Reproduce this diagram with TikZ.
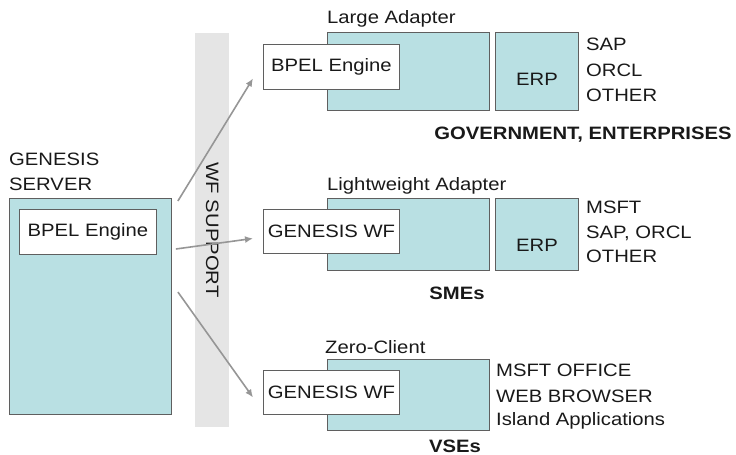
\documentclass[tikz,border=0pt]{standalone}
\usepackage{fontspec}
\setmainfont[FakeStretch=1.13]{Liberation Sans}
\usetikzlibrary{arrows.meta,calc}
\definecolor{tealfill}{RGB}{185,224,227}
\definecolor{bord}{RGB}{95,95,95}
\definecolor{bargray}{RGB}{229,229,229}
\definecolor{arrgray}{RGB}{150,150,150}
\definecolor{txt}{RGB}{25,25,25}
\begin{document}
\begin{tikzpicture}[x=1bp,y=-1bp,
  every node/.style={font=\fontsize{18}{25}\selectfont, inner sep=0pt, text=txt},
  tealbox/.style={draw=bord, fill=tealfill, line width=0.9bp, anchor=north west},
  whitebox/.style={draw=bord, fill=white, line width=0.9bp, anchor=north west},
  lbl/.style={anchor=base west},
  bold/.style={anchor=base, font=\fontsize{18}{25}\selectfont\bfseries},
  conn/.style={draw=arrgray, line width=1.6bp, -{Latex[length=8bp,width=7bp]}}]
\useasboundingbox (0,0) rectangle (736,455);

% WF support bar
\node[fill=bargray, anchor=north west, minimum width=34bp, minimum height=394bp] (bar) at (195,33) {};
\node[rotate=-90] (wfs) at (bar.center) {WF SUPPORT};

% Genesis server
\node[lbl] (gs1) at (9,166) {GENESIS};
\node[lbl] (gs2) at (9,191) {SERVER};
\node[tealbox, minimum width=162bp, minimum height=216bp] (srv) at (9,198) {};
\node[whitebox, minimum width=137bp, minimum height=45bp] (sbpel) at (19,209) {BPEL Engine};

% Large adapter
\node[lbl] (la) at (327,24) {Large Adapter};
\node[tealbox, minimum width=162bp, minimum height=78bp] (labox) at (327,32) {};
\node[tealbox, minimum width=83bp, minimum height=78bp] (erp1) at (495,32) {};
\node (erp1t) at ($(erp1.center)+(0,8)$) {ERP};
\node[whitebox, minimum width=136bp, minimum height=45bp] (bpel1) at (263,44) {BPEL Engine};
\node[lbl] (t11) at (586,51) {SAP};
\node[lbl] (t12) at (586,77) {ORCL};
\node[lbl] (t13) at (586,102) {OTHER};
\node[bold] (gov) at (583,139.5) {GOVERNMENT, ENTERPRISES};

% Lightweight adapter
\node[lbl] (lw) at (327,190.5) {Lightweight Adapter};
\node[tealbox, minimum width=162bp, minimum height=72bp] (lwbox) at (327,198) {};
\node[tealbox, minimum width=83bp, minimum height=72bp] (erp2) at (495,198) {};
\node (erp2t) at ($(erp2.center)+(0,11)$) {ERP};
\node[whitebox, minimum width=136bp, minimum height=44bp] (gwf1) at (263,209) {GENESIS WF};
\node[lbl] (t21) at (586,214) {MSFT};
\node[lbl] (t22) at (586,238.5) {SAP, ORCL};
\node[lbl] (t23) at (586,263) {OTHER};
\node[bold] (sme) at (457,300) {SMEs};

% Zero client
\node[lbl] (zc) at (325,354) {Zero-Client};
\node[tealbox, minimum width=162bp, minimum height=71bp] (zcbox) at (327,359) {};
\node[whitebox, minimum width=136bp, minimum height=44bp] (gwf2) at (263,370) {GENESIS WF};
\node[lbl] (t31) at (496,376.5) {MSFT OFFICE};
\node[lbl] (t32) at (496,402) {WEB BROWSER};
\node[lbl] (t33) at (496,425.5) {Island Applications};
\node[bold] (vse) at (455,452) {VSEs};

% connectors
\coordinate (s1) at ($(srv.north east)+(6,3)$);
\coordinate (s2) at ($(srv.north east)+(4,51)$);
\coordinate (s3) at ($(srv.north east)+(6,94)$);
\draw[conn] (s1) -- ($(bpel1.west)+(-10,11.5)$);
\draw[conn] (s2) -- ($(gwf1.west)+(-10,7)$);
\draw[conn] (s3) -- ($(gwf2.west)+(-10,5)$);
\end{tikzpicture}
\end{document}
